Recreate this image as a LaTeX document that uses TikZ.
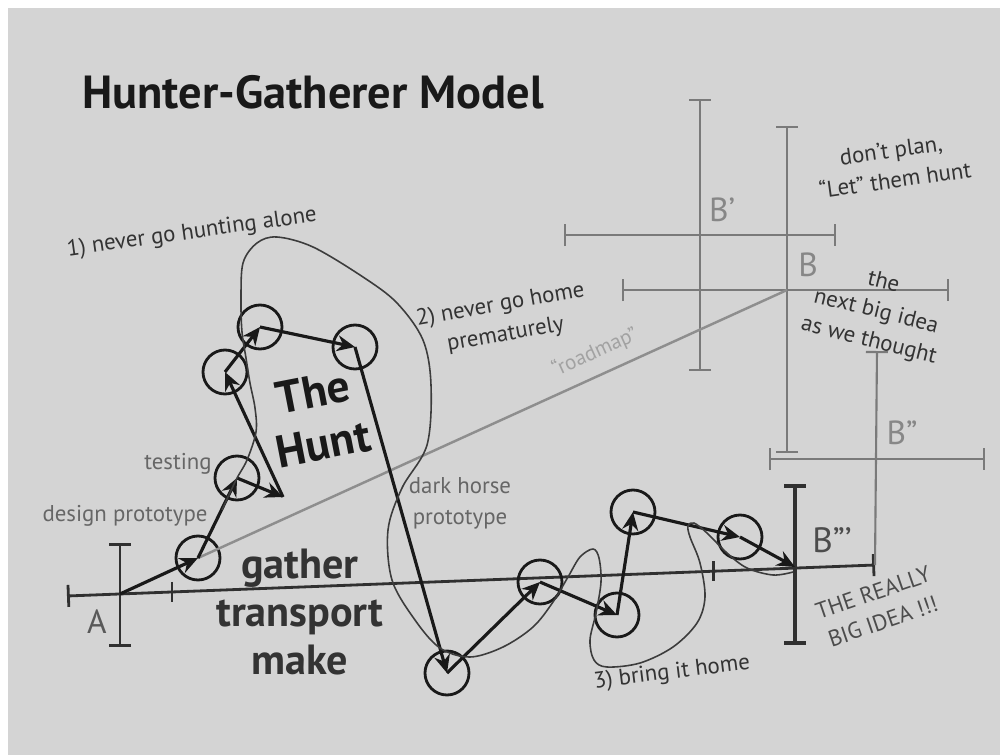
\documentclass[tikz,border=0pt]{standalone}
\usepackage{fontspec}
\setmainfont{PT Sans}
\usepackage{xcolor}
\usetikzlibrary{arrows.meta,calc,positioning}

\definecolor{paper}{RGB}{212,212,212}
\definecolor{ink}{RGB}{25,25,25}
\definecolor{pencil}{RGB}{122,122,122}

\begin{document}
\begin{tikzpicture}[x=0.1mm,y=-0.1mm,
  spot/.style={circle,draw=ink,line width=0.8pt,minimum size=4.4mm,inner sep=0pt},
  move/.style={-{Stealth[length=1.8mm,width=1.6mm]},draw=ink,line width=0.9pt},
  loopline/.style={draw=ink!85,line width=0.45pt},
  trackline/.style={draw=ink!90,line width=0.8pt},
  pencilline/.style={draw=pencil,line width=0.6pt},
  capped/.style={{Bar[width=2.2mm]}-{Bar[width=2.2mm]}},
  note/.style={font=\fontsize{6.5}{8.6}\selectfont,text=black!80,align=center,inner sep=0pt},
  sidenote/.style={font=\fontsize{6.5}{8.8}\selectfont,text=black!60,align=center,inner sep=0pt},
  pencillabel/.style={font=\fontsize{9.5}{10}\selectfont,text=pencil!90,inner sep=0pt}]

% paper
\fill[white] (0,0) rectangle (1000,755);
\fill[paper] (8,8) rectangle (1000,755);
\useasboundingbox (0,0) rectangle (1000,755);

\node[font=\fontsize{13.2}{15}\selectfont\bfseries,text=ink] (title) at (313,92) {Hunter-Gatherer Model};

% planned targets
\draw[pencilline,capped] (700,99) -- (700,371);
\draw[pencilline,capped] (564,235) -- (836,235);
\draw[pencilline,capped] (787,126) -- (787,453);
\draw[pencilline,capped] (622,290) -- (949,290);
\draw[pencilline,capped] (769,459) -- (985,459);
\coordinate (B) at (787,290);
\node[pencillabel] (bone) at (722,210) {B'};
\node[pencillabel] (bzero) at (808,265) {B};
\node[pencillabel] (btwo) at (902,433) {B''};

% track from A to B'''
\coordinate (L) at (67,596);
\coordinate (R) at (875,565);
\coordinate (A) at (120,594);
\coordinate (Bt) at (795,567);
\draw[trackline,capped] (L) -- (R);
\draw[trackline] ($(L)!0.13!(R)+(0,-10)$) -- ++(0,20);
\draw[trackline] ($(L)!0.8!(R)+(0,-10)$) -- ++(0,20);
\draw[pencilline,{Bar[width=2.2mm]}-] (877,351) -- (R);
\draw[trackline,capped] (120,543) -- (120,647);
\draw[trackline,line width=1pt,capped] (795,484) -- (795,645);
\node[font=\fontsize{9.5}{10}\selectfont,text=black!65] (alabel) at (97,622) {A};
\node[font=\fontsize{10}{11}\selectfont,text=black!70] (btlabel) at (832,540) {B'''};

% prototypes
\node[spot] (c1) at (198,558) {};
\node[spot] (c2) at (237,478) {};
\node[spot] (c3) at (225,372) {};
\node[spot] (c4) at (260,327) {};
\node[spot] (c5) at (355,347) {};
\node[spot] (c6) at (447,673) {};
\node[spot] (c7) at (540,582) {};
\node[spot] (c8) at (617,615) {};
\node[spot] (c9) at (633,512) {};
\node[spot] (c10) at (740,537) {};
\coordinate (turn) at (283,497);

\draw[draw=pencil!85,line width=0.7pt] (c1.center) -- (B)
  node[pos=0.69,sloped,above=1.1mm,font=\fontsize{6}{7}\selectfont,text=pencil!70,inner sep=0pt] (roadmap) {“roadmap”};

\draw[move] (A) -- (c1.center);
\draw[move] (c1.center) -- (c2.center);
\draw[move] (c2.center) -- (turn);
\draw[move] (turn) -- (c3.center);
\draw[move] (c3.center) -- (c4.center);
\draw[move] (c4.center) -- (c5.center);
\draw[move] (c5.center) -- (c6.center);
\draw[move] (c6.center) -- (c7.center);
\draw[move] (c7.center) -- (c8.center);
\draw[move] (c8.center) -- (c9.center);
\draw[move] (c9.center) -- (c10.center);
\draw[move] (c10.center) -- (Bt);

% the hunting trail
\draw[loopline] plot[smooth,tension=0.55] coordinates {(222,510) (236,480) (247,460) (256,432) (255,408) (250,383) (246,358) (242,332) (241,300) (243,263) (257,243) (277,237) (313,247) (363,277) (397,303) (423,340) (431,385) (427,445) (402,488) (388,530) (392,580) (415,620) (440,648) (470,657) (503,647) (533,627) (553,602) (568,577) (580,557) (593,549) (599,558) (601,582) (596,613) (590,640) (594,660) (607,667) (640,663) (673,647) (697,623) (705,597) (700,563) (690,537) (688,526) (694,523) (707,533) (727,553) (747,568) (773,575) (793,572)};

% labels
\node[font=\fontsize{13}{15}\selectfont\bfseries,text=ink,align=center,rotate=11] (hunt) at (318,418) {The\\Hunt};
\node[font=\fontsize{12}{13.6}\selectfont\bfseries,text=black!80,align=center] (gather) at (300,612) {gather\\transport\\make};
\node[note,rotate=8] (alone) at (192,233) {1) never go hunting alone};
\node[note,rotate=10] (home) at (503,320) {2) never go home\\prematurely};
\node[sidenote] (testing) at (178,464) {testing};
\node[sidenote] (design) at (125,516) {design prototype};
\node[sidenote] (darkhorse) at (460,503) {dark horse\\prototype};
\node[note,rotate=7] (bring) at (672,673) {3) bring it home};
\node[note,text=black!70,rotate=19] (really) at (878,607) {THE REALLY\\BIG IDEA !!!};
\node[note,rotate=8] (noplan) at (893,165) {don’t plan,\\“Let” them hunt};
\node[note,rotate=-14] (nextbig) at (876,312) {the\\next big idea\\as we thought};

\end{tikzpicture}
\end{document}
